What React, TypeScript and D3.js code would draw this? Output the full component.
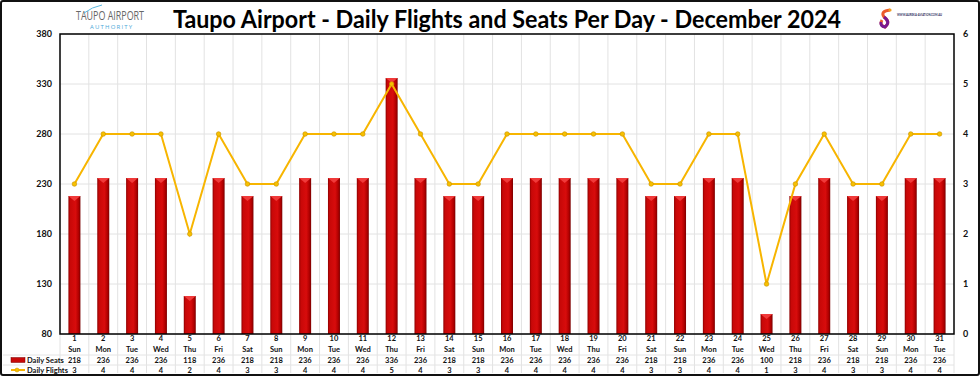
import React from "react";
import * as d3 from "d3";

const days = Array.from({ length: 31 }, (_, i) => String(i + 1));
const dayNames = ["Sun","Mon","Tue","Wed","Thu","Fri","Sat","Sun","Mon","Tue","Wed","Thu","Fri","Sat","Sun","Mon","Tue","Wed","Thu","Fri","Sat","Sun","Mon","Tue","Wed","Thu","Fri","Sat","Sun","Mon","Tue"];
const seats = [218,236,236,236,118,236,218,218,236,236,236,336,236,218,218,236,236,236,236,236,218,218,236,236,100,218,236,218,218,236,236];
const flights = [3,4,4,4,2,4,3,3,4,4,4,5,4,3,3,4,4,4,4,4,3,3,4,4,1,3,4,3,3,4,4];
const leftTicks = [80,130,180,230,280,330,380];
const rightTicks = [0,1,2,3,4,5,6];
const title = "Taupo Airport - Daily Flights and Seats Per Day - December 2024";

const W = 980, H = 376;
const M = { left: 60, right: 954, top: 34, bottom: 334 };

export default function App() {
  const x = d3.scaleBand<string>().domain(days).range([M.left, M.right]).padding(0);
  const yL = d3.scaleLinear().domain([80, 380]).range([M.bottom, M.top]);
  const yR = d3.scaleLinear().domain([0, 6]).range([M.bottom, M.top]);
  const bw = 12;
  const line = d3.line<number>().x((_, i) => x(days[i])! + x.bandwidth() / 2).y((d) => yR(d));
  const rows = [338, 349, 360, 370];
  const font = "Lato, 'Open Sans', sans-serif";
  return (
    <svg width={W} height={H} style={{ position: "absolute", left: 0, top: 0, background: "#fff" }}>
      <defs>
        <linearGradient id="barg" x1="0" x2="1" y1="0" y2="0">
          <stop offset="0" stopColor="#8e0000" />
          <stop offset="0.15" stopColor="#c80808" />
          <stop offset="0.6" stopColor="#d80c0c" />
          <stop offset="0.85" stopColor="#b00000" />
          <stop offset="1" stopColor="#7a0000" />
        </linearGradient>
      </defs>
      <rect x={1} y={1} width={W - 2} height={H - 2} fill="#fff" stroke="#111" strokeWidth={2} rx={2} />
      {/* grid */}
      {leftTicks.map((t) => (
        <line key={"h" + t} x1={M.left} x2={M.right} y1={yL(t)} y2={yL(t)} stroke="#e2e2e2" strokeWidth={1} />
      ))}
      {days.map((d, i) => i > 0 && (
        <line key={"v" + d} x1={x(d)!} x2={x(d)!} y1={M.top} y2={H - 3} stroke="#e2e2e2" strokeWidth={1} />
      ))}
      {/* table row lines */}
      {[355, 365].map((yy) => (
        <line key={"r" + yy} x1={3} x2={M.right} y1={yy} y2={yy} stroke="#e4e4e4" strokeWidth={1} />
      ))}
      <line x1={M.left} x2={M.left} y1={M.bottom} y2={H - 3} stroke="#e2e2e2" />
      <line x1={M.right} x2={M.right} y1={M.bottom} y2={H - 3} stroke="#e2e2e2" />
      {/* bars */}
      {seats.map((v, i) => {
        const cx = x(days[i])! + x.bandwidth() / 2;
        const y0 = yL(v);
        return (
          <g key={"b" + i}>
            <rect x={cx - bw / 2} y={y0} width={bw} height={M.bottom - y0} fill="url(#barg)" />
            <polygon points={`${cx - bw / 2},${y0} ${cx + bw / 2},${y0} ${cx},${y0 + 5}`} fill="#f03a3a" />
          </g>
        );
      })}
      {/* plot frame */}
      <rect x={M.left} y={M.top} width={M.right - M.left} height={M.bottom - M.top} fill="none" stroke="#000" strokeWidth={1.5} />
      {/* line */}
      <path d={line(flights)!} fill="none" stroke="#f7b500" strokeWidth={2} />
      {flights.map((v, i) => (
        <circle key={"c" + i} cx={x(days[i])! + x.bandwidth() / 2} cy={yR(v)} r={2.3} fill="#f7c000" stroke="#c89000" strokeWidth={0.6} />
      ))}
      {/* axes labels */}
      {leftTicks.map((t) => (
        <text key={"l" + t} x={52} y={yL(t) + 3} textAnchor="end" fontSize={9} fontWeight={700} fontFamily={font} fill="#111">{t}</text>
      ))}
      {rightTicks.map((t) => (
        <text key={"rt" + t} x={963} y={yR(t) + 3} textAnchor="start" fontSize={9} fontWeight={700} fontFamily={font} fill="#111">{t}</text>
      ))}
      {/* table */}
      {days.map((d, i) => {
        const cx = x(d)! + x.bandwidth() / 2;
        return (
          <g key={"t" + d} fontSize={7.5} fontWeight={700} fontFamily={font} fill="#111" textAnchor="middle">
            <text x={cx} y={rows[0] + 2.6}>{d}</text>
            <text x={cx} y={rows[1] + 2.6}>{dayNames[i]}</text>
            <text x={cx} y={rows[2] + 2.6}>{seats[i]}</text>
            <text x={cx} y={rows[3] + 2.6}>{flights[i]}</text>
          </g>
        );
      })}
      <rect x={11} y={357.5} width={14} height={5} fill="#c80808" stroke="#7a0000" strokeWidth={0.5} />
      <text x={27} y={362.6} fontSize={7.5} fontWeight={700} fontFamily={font} fill="#111">Daily Seats</text>
      <line x1={11} x2={25} y1={370} y2={370} stroke="#f7b500" strokeWidth={2} />
      <circle cx={17} cy={370} r={2} fill="#f7c000" stroke="#c89000" strokeWidth={0.5} />
      <text x={27} y={372.6} fontSize={7.5} fontWeight={700} fontFamily={font} fill="#111">Daily Flights</text>
      {/* title */}
      <text x={507} y={28} textAnchor="middle" fontSize={25} fontWeight={700} fontFamily={font} fill="#000" textLength={668} lengthAdjust="spacingAndGlyphs">{title}</text>
      {/* left logo */}
      <text x={76} y={20} fontSize={12} fontFamily="'Open Sans', sans-serif" fill="#666" textLength={68} lengthAdjust="spacingAndGlyphs">TAUPO AIRPORT</text>
      <path d="M84 13 Q92 7 102 5" fill="none" stroke="#5bb8e0" strokeWidth={1} />
      <text x={90} y={29} fontSize={6} fontFamily="'Open Sans', sans-serif" fill="#4aa8d8" letterSpacing={1.2}>AUTHORITY</text>
      {/* right logo */}
      <path d="M890 10 Q880 11 884 17 Q891 22 885 27 Q879 25 882 20" fill="none" stroke="#ec5a2c" strokeWidth={3} />
      <path d="M884 17 Q891 22 885 27 Q880 26 881 22" fill="none" stroke="#7a1a90" strokeWidth={3} />
      <circle cx={890} cy={10} r={1.6} fill="#f0a020" />
      <text x={897} y={16} fontSize={4} fontWeight={700} fontFamily={font} fill="#2a2a5a" textLength={45} lengthAdjust="spacingAndGlyphs">WWW.AUREKA-AVIATION.COM.AU</text>
    </svg>
  );
}
